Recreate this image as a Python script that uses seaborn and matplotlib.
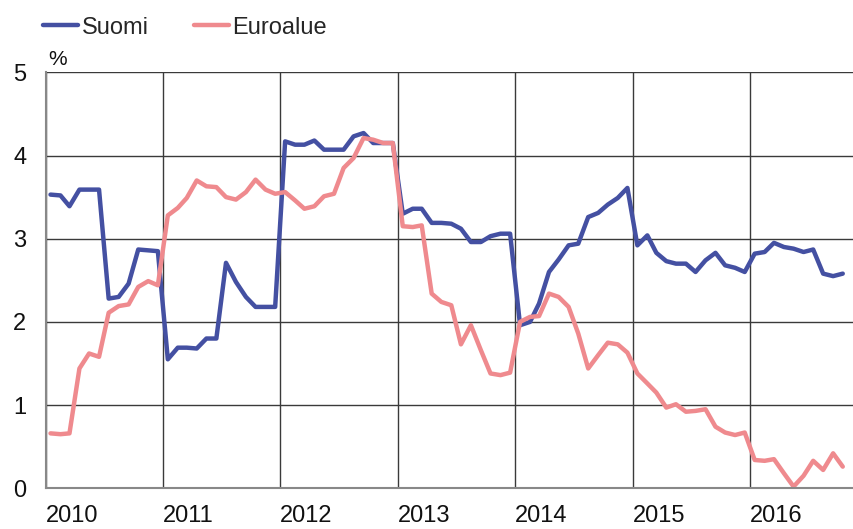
import pandas as pd
import matplotlib
matplotlib.use("Agg")
import matplotlib.pyplot as plt
import matplotlib.dates as mdates
import seaborn as sns

# monthly values, Jan 2010 - Oct 2016 (%)
suomi = [3.53, 3.52, 3.39, 3.59, 3.59, 3.59, 2.28, 2.30, 2.46, 2.87, 2.86, 2.85,
         1.55, 1.69, 1.69, 1.68, 1.80, 1.80, 2.71, 2.48, 2.30, 2.18, 2.18, 2.18,
         4.17, 4.13, 4.13, 4.18, 4.07, 4.07, 4.07, 4.23, 4.27, 4.15, 4.15, 4.15,
         3.30, 3.36, 3.36, 3.19, 3.19, 3.18, 3.12, 2.96, 2.96, 3.03, 3.06, 3.06,
         1.96, 2.00, 2.22, 2.60, 2.75, 2.92, 2.94, 3.26, 3.31, 3.41, 3.49, 3.61,
         2.92, 3.04, 2.83, 2.73, 2.70, 2.70, 2.60, 2.74, 2.83, 2.68, 2.65, 2.60,
         2.82, 2.84, 2.95, 2.90, 2.88, 2.84, 2.87, 2.58, 2.55, 2.58]
euroalue = [0.66, 0.65, 0.66, 1.44, 1.62, 1.58, 2.11, 2.19, 2.21, 2.42, 2.49, 2.44,
            3.28, 3.37, 3.49, 3.70, 3.63, 3.62, 3.50, 3.47, 3.56, 3.71, 3.59, 3.54,
            3.56, 3.46, 3.36, 3.39, 3.51, 3.54, 3.85, 3.97, 4.21, 4.19, 4.15, 4.15,
            3.15, 3.14, 3.16, 2.34, 2.24, 2.20, 1.73, 1.96, 1.66, 1.38, 1.36, 1.39,
            2.00, 2.06, 2.07, 2.34, 2.30, 2.18, 1.86, 1.44, 1.60, 1.75, 1.73, 1.63,
            1.38, 1.26, 1.15, 0.97, 1.01, 0.92, 0.93, 0.95, 0.74, 0.67, 0.64, 0.67,
            0.34, 0.33, 0.35, 0.18, 0.02, 0.15, 0.33, 0.22, 0.42, 0.26]
years = [2010, 2011, 2012, 2013, 2014, 2015, 2016]

dates = pd.date_range("2010-01-01", periods=len(suomi), freq="MS") + pd.Timedelta(days=15)
df = pd.DataFrame({"date": list(dates) * 2,
                   "value": suomi + euroalue,
                   "series": ["Suomi"] * len(suomi) + ["Euroalue"] * len(euroalue)})

sns.set_style("white")
plt.rcParams["font.family"] = ["Liberation Sans", "DejaVu Sans"]

fig = plt.figure(figsize=(8.54, 5.29), dpi=100)
ax = fig.add_axes([0.0535, 0.077, 0.9465, 0.7863])

sns.lineplot(data=df, x="date", y="value", hue="series",
             palette={"Suomi": "#4450A2", "Euroalue": "#EF8A8E"},
             linewidth=3.2, ax=ax, legend=False)

ax.set_xlim(pd.Timestamp("2010-01-01"), pd.Timestamp("2016-11-20"))
ax.set_ylim(0, 5)
ax.set_yticks(range(0, 6))
ax.set_xticks([pd.Timestamp(f"{y}-01-01") for y in years])
ax.set_xticklabels([str(y) for y in years])
for lbl in ax.get_xticklabels():
    lbl.set_ha("left")
ax.tick_params(axis="both", length=0, labelsize=17, colors="#111111")
ax.tick_params(axis="y", pad=14)
ax.tick_params(axis="x", pad=12)
ax.set_xlabel("")
ax.set_ylabel("")

ax.grid(True, color="#3a3a3a", linewidth=1.0)
ax.set_axisbelow(True)
for side in ["top", "right"]:
    ax.spines[side].set_visible(False)
for side in ["left", "bottom"]:
    ax.spines[side].set_color("#888888")
    ax.spines[side].set_linewidth(1.5)

fig.text(0.056, 0.888, "%", fontsize=15, va="center", ha="left", color="#111111")

handles = [plt.Line2D([], [], color="#4450A2", linewidth=3.2),
           plt.Line2D([], [], color="#EF8A8E", linewidth=3.2)]
fig.legend(handles, ["Suomi", "Euroalue"], loc="center left",
           bbox_to_anchor=(0.05, 0.948), ncol=2, frameon=False, fontsize=17,
           handlelength=1.5, handletextpad=0.15, columnspacing=1.9,
           borderpad=0, borderaxespad=0)

fig.savefig("out.png", dpi=100)
